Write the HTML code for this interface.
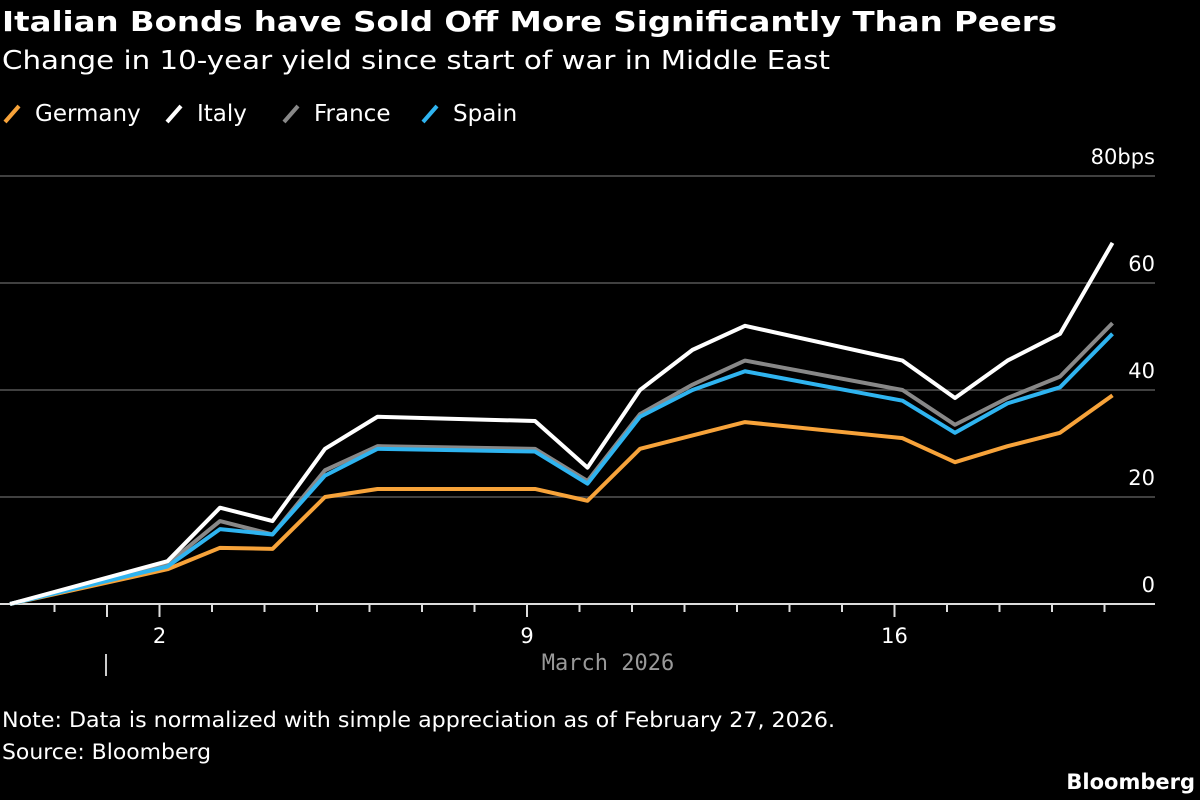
<!DOCTYPE html>
<html><head><meta charset="utf-8"><style>
body{margin:0;background:#000;width:1200px;height:800px;overflow:hidden;font-family:"DejaVu Sans","Liberation Sans",sans-serif;color:#fff}
svg text{font-family:"DejaVu Sans","Liberation Sans",sans-serif}
</style></head><body>
<svg width="1200" height="800" style="position:absolute;left:0;top:0">
<text x="2" y="31" font-size="28" font-weight="bold" fill="#fff" textLength="1055" lengthAdjust="spacingAndGlyphs">Italian Bonds have Sold Off More Significantly Than Peers</text>
<text x="2" y="69" font-size="26" fill="#fff" textLength="828" lengthAdjust="spacingAndGlyphs">Change in 10-year yield since start of war in Middle East</text>
<g id="legend"></g>
<g id="grid"></g><g id="axis"></g><g id="lines"></g>
<text x="608" y="670" font-size="22" fill="#999" text-anchor="middle" style="font-family:'DejaVu Sans Mono','Liberation Mono',monospace">March 2026</text>
<rect x="105" y="654" width="2" height="22" fill="#ccc"/>
<text x="2" y="727" font-size="21" fill="#fff" textLength="833" lengthAdjust="spacingAndGlyphs">Note: Data is normalized with simple appreciation as of February 27, 2026.</text>
<text x="2" y="759" font-size="21" fill="#fff" textLength="209" lengthAdjust="spacingAndGlyphs">Source: Bloomberg</text>
<text x="1195" y="789" font-size="21" font-weight="bold" fill="#fff" text-anchor="end">Bloomberg</text>
</svg>
<script>
const days=[0,3,4,5,6,7,10,11,12,13,14,17,18,19,20,21];
const germany=[0,6.5,10.5,10.3,20,21.5,21.5,19.3,29,31.5,34,31,26.5,29.5,32,39];
const italy=[0,8,18,15.5,29,35,34.2,25.5,40,47.5,52,45.5,38.5,45.5,50.5,67.5];
const france=[0,7.5,15.5,13,25,29.5,29,23,35.5,41,45.5,40,33.5,38.5,42.5,52.5];
const spain=[0,7,14,13,24,29,28.5,22.5,35,40,43.5,38,32,37.5,40.5,50.5];
const yTicks=[0,20,40,60,80];
const xTickLabels=["2","9","16"];
const xTickDays=[3,10,17];
const series=[["germany","Germany","#f7a33a",germany],["france","France","#888",france],["spain","Spain","#2fb4f0",spain],["italy","Italy","#fff",italy]];
const legendOrder=[["Germany","#f7a33a"],["Italy","#fff"],["France","#888"],["Spain","#2fb4f0"]];
const NS="http://www.w3.org/2000/svg";
const x=d=>10+d*52.5;
const y=v=>604-v*5.35;
function mk(t,a,p){const e=document.createElementNS(NS,t);for(const k in a)e.setAttribute(k,a[k]);p.appendChild(e);return e;}
const grid=document.getElementById('grid');
yTicks.forEach(v=>{
 if(v>0){const l=mk('line',{x1:0,x2:1155,y1:y(v),y2:y(v),stroke:'#555','stroke-width':1.5},grid);
 
 }
 const t=mk('text',{x:1155,y:y(v)-12,'font-size':21,fill:'#fff','text-anchor':'end'},grid);
 t.textContent=v===80?'80bps':String(v);
 
 
});
const ax=document.getElementById('axis');
const base=mk('line',{x1:0,x2:1155,y1:604,y2:604,stroke:'#ddd','stroke-width':2},ax);


for(let d=1;d<=21;d++){
 const major=xTickDays.includes(d)||d===2;
 const tk=mk('line',{x1:x(d)-8,x2:x(d)-8,y1:604,y2:major?617:612,stroke:'#ddd','stroke-width':2},ax);
 
 
}
xTickDays.forEach((d,i)=>{
 const t=mk('text',{x:x(d)-8,y:643,'font-size':21,fill:'#fff','text-anchor':'middle'},ax);
 t.textContent=xTickLabels[i];
 
 
});
const lg=document.getElementById('lines');
series.forEach(([id,name,c,vals])=>{
 const p=mk('polyline',{points:vals.map((v,i)=>x(days[i])+','+y(v)).join(' '),fill:'none',stroke:c,'stroke-width':4,'stroke-linejoin':'round'},lg);
 
 
});
const leg=document.getElementById('legend');
const lxs=[5,167,284,423];
legendOrder.forEach(([n,c],i)=>{
 const lx=lxs[i];
 const s=mk('line',{x1:lx,y1:122,x2:lx+14,y2:106,stroke:c,'stroke-width':4},leg);
 
 
 const t=mk('text',{x:lx+30,y:121,'font-size':23,fill:'#fff'},leg);
 t.textContent=n;
 
 
});
</script>
</body></html>
